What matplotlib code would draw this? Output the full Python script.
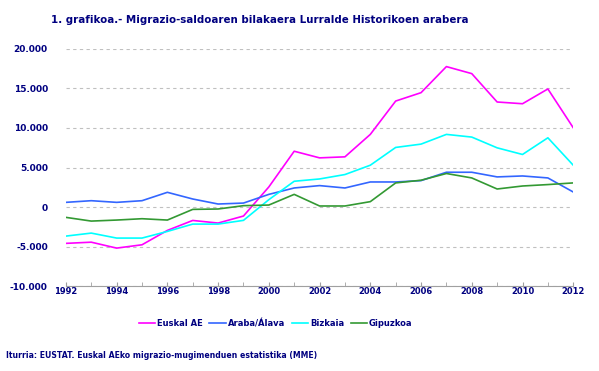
import matplotlib.pyplot as plt
import matplotlib.ticker as mticker
import numpy as np

# urteak eta serieak (grafikotik irakurritako balioak)
urteak = list(range(1992, 2013))
euskal_ae = [-4600, -4450, -5200, -4780, -2960, -1700, -2030, -1140, 2540, 7060,
             6220, 6350, 9190, 13410, 14470, 17770, 16880, 13290, 13070, 14940, 10030]
araba = [590, 800, 590, 800, 1860, 1015, 380, 500, 1600, 2410,
         2710, 2410, 3170, 3170, 3340, 4400, 4400, 3810, 3930, 3680, 1900]
bizkaia = [-3680, -3300, -3930, -3930, -3090, -2160, -2160, -1690, 930, 3260,
           3550, 4110, 5290, 7540, 7960, 9190, 8850, 7490, 6650, 8760, 5290]
gipuzkoa = [-1310, -1780, -1650, -1480, -1650, -300, -250, 170, 250, 1600,
            130, 130, 680, 3050, 3390, 4240, 3680, 2280, 2660, 2840, 3050]

izenak = ["Euskal AE", "Araba/Álava", "Bizkaia", "Gipuzkoa"]
koloreak = ["#FF00FF", "#3366FF", "#00FFFF", "#339933"]
navy = "#000080"

fig = plt.figure(figsize=(5.99, 3.71), dpi=100)
ax = fig.add_axes([0.110, 0.229, 0.847, 0.639])

for serie, izena, kol in zip([euskal_ae, araba, bizkaia, gipuzkoa], izenak, koloreak):
    ax.plot(urteak, serie, color=kol, lw=1.2, label=izena)

ax.set_xlim(1992, 2012)
ax.set_ylim(-10000, 20000)
ax.set_yticks(np.arange(-10000, 20001, 5000))
ax.yaxis.set_major_formatter(mticker.FuncFormatter(lambda v, p: f"{int(v):,}".replace(",", ".")))
ax.set_xticks(range(1992, 2013, 2))
ax.set_xticks(range(1992, 2013), minor=True)

ax.grid(axis="y", color="#C0C0C0", ls=(0, (3, 3)), lw=0.8)
ax.set_axisbelow(True)
for s in ["top", "right", "left"]:
    ax.spines[s].set_visible(False)
ax.spines["bottom"].set_color("#A0A0A0")
ax.tick_params(axis="y", length=0, labelsize=6.5, labelcolor=navy, pad=13)
ax.tick_params(axis="x", which="both", length=3, direction="in", color="#A0A0A0",
               labelsize=6, labelcolor=navy, pad=1)
for t in ax.get_yticklabels() + ax.get_xticklabels():
    t.set_fontweight("bold")

fig.text(0.434, 0.945, "1. grafikoa.- Migrazio-saldoaren bilakaera Lurralde Historikoen arabera",
         ha="center", va="center", fontsize=7.4, fontweight="bold", color=navy)

leg = fig.legend(loc="center", bbox_to_anchor=(0.46, 0.127), ncol=4, frameon=False,
                 fontsize=6, handlelength=2.0, handletextpad=0.2, columnspacing=0.8)
for t in leg.get_texts():
    t.set_color(navy)
    t.set_fontweight("bold")

fig.text(0.010, 0.043, "Iturria: EUSTAT. Euskal AEko migrazio-mugimenduen estatistika (MME)",
         ha="left", va="center", fontsize=5.6, fontweight="bold", color=navy)

fig.savefig("out.png", dpi=100)
